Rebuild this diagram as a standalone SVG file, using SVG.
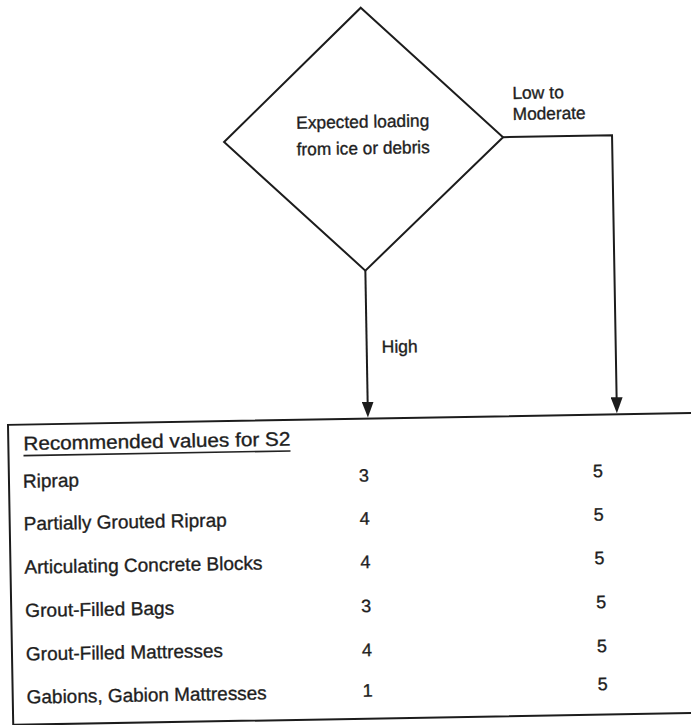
<svg xmlns="http://www.w3.org/2000/svg" width="691" height="725" viewBox="0 0 691 725">
  <style>
    .ln { fill: none; stroke: #1c1c1c; stroke-width: 2; }
    .t { font-family: "Liberation Sans", Arial, Helvetica, sans-serif; fill: #1e1e1e; stroke: #1e1e1e; stroke-width: 0.35px; }
    .lbl { font-size: 17.5px; }
    .row { font-size: 19px; }
    .num { font-size: 18px; text-anchor: middle; }
  </style>
  <defs>
    <marker id="arrow" viewBox="0 0 16 12" refX="8" refY="6" markerWidth="16" markerHeight="12" markerUnits="userSpaceOnUse" orient="auto">
      <path d="M0,0 L16,6 L0,12 z" fill="#1c1c1c"/>
    </marker>
  </defs>
  <rect x="0" y="0" width="691" height="725" fill="#ffffff"/>
  <g transform="rotate(-1 345 365)">
    <g id="decision">
      <polygon class="ln" points="367,8 507,140 367,271 228,140"/>
      <text class="t lbl" x="367" y="128" text-anchor="middle" textLength="133" lengthAdjust="spacingAndGlyphs">Expected loading</text>
      <text class="t lbl" x="367" y="154.5" text-anchor="middle" textLength="133" lengthAdjust="spacingAndGlyphs">from ice or debris</text>
    </g>
    <g id="connectors">
      <line class="ln" x1="367" y1="271" x2="367" y2="410" marker-end="url(#arrow)"/>
      <polyline class="ln" points="507,140 616,140 616,410" marker-end="url(#arrow)"/>
      <text class="t lbl" x="382" y="353.5">High</text>
      <text class="t lbl" x="517" y="102">Low to</text>
      <text class="t lbl" x="517" y="123" textLength="73" lengthAdjust="spacingAndGlyphs">Moderate</text>
    </g>
    <g id="table">
      <rect class="ln" x="7" y="419" width="720" height="300"/>
      <text class="t" x="22" y="444.5" font-size="19.5" textLength="267" lengthAdjust="spacingAndGlyphs">Recommended values for S2</text>
      <line x1="22" y1="450" x2="289" y2="450" stroke="#222" stroke-width="1.6"/>
      <g id="row-riprap">
        <text class="t row" x="21" y="482" textLength="56" lengthAdjust="spacingAndGlyphs">Riprap</text>
        <text class="t num" x="362" y="482">3</text>
        <text class="t num" x="596" y="481.5">5</text>
      </g>
      <g id="row-partially-grouted-riprap">
        <text class="t row" x="21" y="524.5" textLength="203" lengthAdjust="spacingAndGlyphs">Partially Grouted Riprap</text>
        <text class="t num" x="362" y="525">4</text>
        <text class="t num" x="596" y="525">5</text>
      </g>
      <g id="row-articulating-concrete-blocks">
        <text class="t row" x="21" y="568" textLength="238" lengthAdjust="spacingAndGlyphs">Articulating Concrete Blocks</text>
        <text class="t num" x="362" y="568.5">4</text>
        <text class="t num" x="596" y="568.5">5</text>
      </g>
      <g id="row-grout-filled-bags">
        <text class="t row" x="21" y="611.5" textLength="149" lengthAdjust="spacingAndGlyphs">Grout-Filled Bags</text>
        <text class="t num" x="362" y="612.5">3</text>
        <text class="t num" x="597" y="612.5">5</text>
      </g>
      <g id="row-grout-filled-mattresses">
        <text class="t row" x="21" y="655" textLength="197" lengthAdjust="spacingAndGlyphs">Grout-Filled Mattresses</text>
        <text class="t num" x="362" y="656.5">4</text>
        <text class="t num" x="597" y="656.5">5</text>
      </g>
      <g id="row-gabions">
        <text class="t row" x="21" y="698" textLength="240" lengthAdjust="spacingAndGlyphs">Gabions, Gabion Mattresses</text>
        <text class="t num" x="362" y="697">1</text>
        <text class="t num" x="597" y="694.5">5</text>
      </g>
    </g>
  </g>
</svg>
